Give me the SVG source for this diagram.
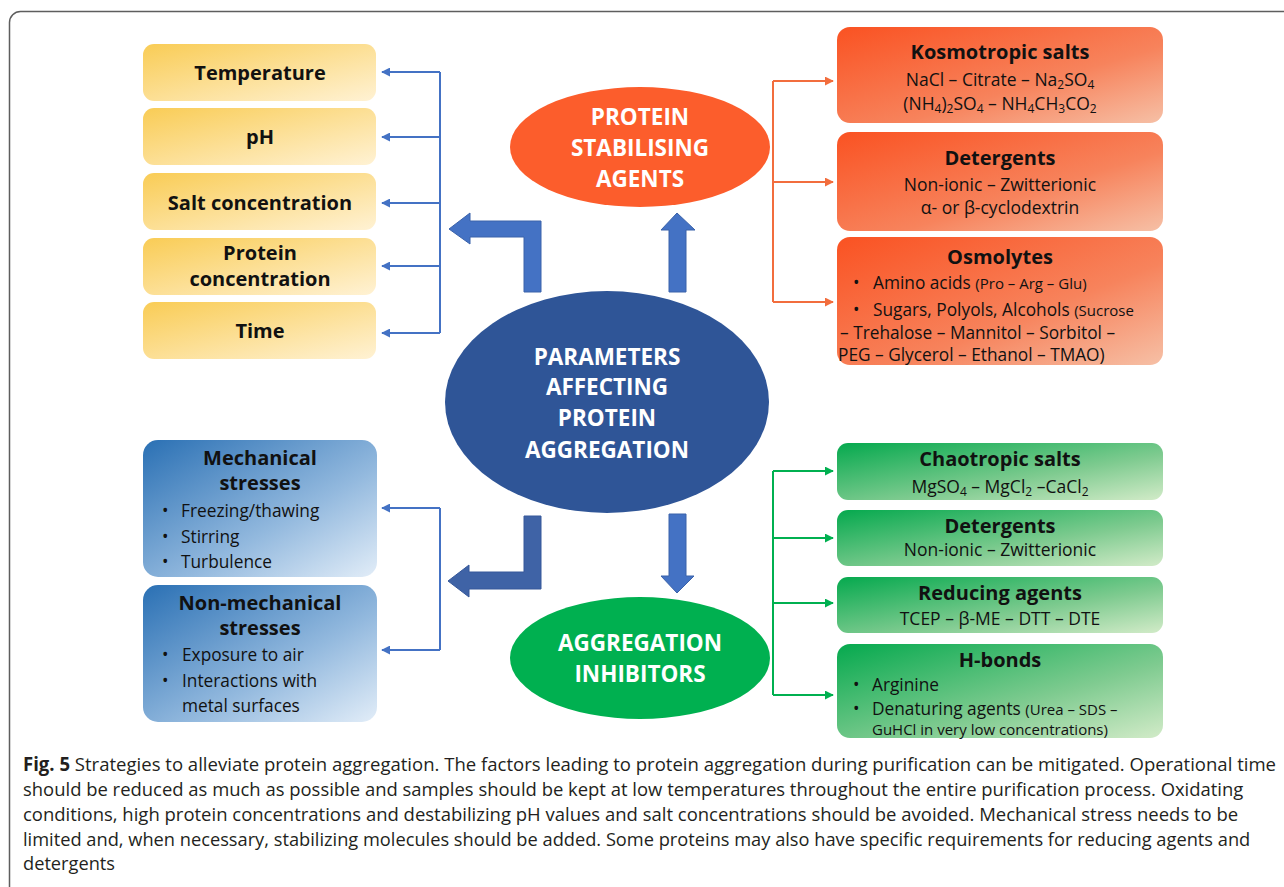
<svg xmlns="http://www.w3.org/2000/svg" width="1284" height="887" viewBox="0 0 1284 887">
<defs>
<linearGradient id="gY" x1="0" y1="0" x2="1" y2="1"><stop offset="0" stop-color="#F9CC55"/><stop offset="1" stop-color="#FFF2D4"/></linearGradient>
<linearGradient id="gO" x1="0" y1="0" x2="1" y2="1"><stop offset="0" stop-color="#FA5222"/><stop offset="0.6" stop-color="#F7835C"/><stop offset="1" stop-color="#F6C0A6"/></linearGradient>
<linearGradient id="gG" x1="0" y1="0" x2="1" y2="1"><stop offset="0" stop-color="#05A94E"/><stop offset="0.6" stop-color="#7FCB90"/><stop offset="1" stop-color="#D2EBC8"/></linearGradient>
<linearGradient id="gB" x1="0" y1="0" x2="1" y2="1"><stop offset="0" stop-color="#2A70B4"/><stop offset="0.6" stop-color="#93B9DE"/><stop offset="1" stop-color="#E2EDF8"/></linearGradient>
<marker id="mB" viewBox="0 0 10 10" refX="9" refY="5" markerWidth="4.5" markerHeight="4.5" orient="auto"><path d="M0,0 L10,5 L0,10 Z" fill="#4472C4"/></marker>
<marker id="mO" viewBox="0 0 10 10" refX="9" refY="5" markerWidth="4.5" markerHeight="4.5" orient="auto"><path d="M0,0 L10,5 L0,10 Z" fill="#F26D3D"/></marker>
<marker id="mG" viewBox="0 0 10 10" refX="9" refY="5" markerWidth="4.5" markerHeight="4.5" orient="auto"><path d="M0,0 L10,5 L0,10 Z" fill="#00B050"/></marker>
</defs>
<style>
text{font-family:"Open Sans","Liberation Sans",sans-serif;fill:#111}
.h{font-weight:700;font-size:20px;text-anchor:middle}
.t{font-size:17.5px;text-anchor:middle}
.b{font-size:17.3px}
.s{font-size:15px}
.u{font-size:12px}
.e{font-weight:700;font-size:22.5px;fill:#fff;text-anchor:middle}
.cap{font-size:19px;fill:#231F20}
.lb{fill:none;stroke:#4472C4;stroke-width:2}
.lo{fill:none;stroke:#F26D3D;stroke-width:2}
.lg{fill:none;stroke:#00B050;stroke-width:2}
.blk{fill:#4472C4;stroke:#3A62AA;stroke-width:1}
</style>
<rect width="1284" height="887" fill="#fff"/>
<rect x="9.5" y="11.5" width="1300" height="900" rx="11" fill="none" stroke="#5E5E5E" stroke-width="1.5"/>

<g id="connectors">
<path class="lb" d="M440,72 V333"/>
<path class="lb" d="M440,72 H382" marker-end="url(#mB)"/>
<path class="lb" d="M440,137 H382" marker-end="url(#mB)"/>
<path class="lb" d="M440,203 H382" marker-end="url(#mB)"/>
<path class="lb" d="M440,266 H382" marker-end="url(#mB)"/>
<path class="lb" d="M440,333 H382" marker-end="url(#mB)"/>
<path class="lb" d="M440,508 V650"/>
<path class="lb" d="M440,508 H382" marker-end="url(#mB)"/>
<path class="lb" d="M440,650 H382" marker-end="url(#mB)"/>
<path class="lo" d="M773,81 V302"/>
<path class="lo" d="M773,81 H833" marker-end="url(#mO)"/>
<path class="lo" d="M773,182 H833" marker-end="url(#mO)"/>
<path class="lo" d="M773,302 H833" marker-end="url(#mO)"/>
<path class="lg" d="M773,471 V695"/>
<path class="lg" d="M773,471 H833" marker-end="url(#mG)"/>
<path class="lg" d="M773,538 H833" marker-end="url(#mG)"/>
<path class="lg" d="M773,603 H833" marker-end="url(#mG)"/>
<path class="lg" d="M773,695 H833" marker-end="url(#mG)"/>
<polygon class="blk" points="449,229 470,213 470,221 541,221 541,292 524,292 524,237 470,237 470,244"/>
<polygon class="blk" points="669,292 669,230 661,230 677,213 695,230 686,230 686,292"/>
<polygon class="blk" style="fill:#3F63A6;stroke:#36589A" points="448,581 469,565 469,572 524,572 524,516 541,516 541,589 469,589 469,597"/>
<polygon class="blk" points="669,514 686,514 686,576 694,576 677,593 661,576 669,576"/>
</g>

<g id="temperature"><rect x="143" y="44" width="233" height="57" rx="11" fill="url(#gY)"/><text class="h" x="260" y="80">Temperature</text></g>
<g id="ph"><rect x="143" y="108" width="233" height="57" rx="11" fill="url(#gY)"/><text class="h" x="260" y="144">pH</text></g>
<g id="salt"><rect x="143" y="173" width="233" height="57" rx="11" fill="url(#gY)"/><text class="h" x="260" y="210">Salt concentration</text></g>
<g id="protein"><rect x="143" y="238" width="233" height="57" rx="11" fill="url(#gY)"/><text class="h" x="260" y="260">Protein</text><text class="h" x="260" y="286">concentration</text></g>
<g id="time"><rect x="143" y="302" width="233" height="57" rx="11" fill="url(#gY)"/><text class="h" x="260" y="338">Time</text></g>

<g id="mechanical"><rect x="143" y="440" width="234" height="137" rx="15" fill="url(#gB)"/>
<text class="h" x="260" y="465">Mechanical</text><text class="h" x="260" y="490">stresses</text>
<text class="b" x="162" y="517">•</text><text class="b" x="181" y="517">Freezing/thawing</text>
<text class="b" x="162" y="543">•</text><text class="b" x="181" y="543">Stirring</text>
<text class="b" x="162" y="568">•</text><text class="b" x="181" y="568">Turbulence</text></g>
<g id="nonmechanical"><rect x="143" y="585" width="234" height="137" rx="15" fill="url(#gB)"/>
<text class="h" x="260" y="610">Non-mechanical</text><text class="h" x="260" y="635">stresses</text>
<text class="b" x="162" y="661">•</text><text class="b" x="182" y="661">Exposure to air</text>
<text class="b" x="162" y="687">•</text><text class="b" x="182" y="687">Interactions with</text>
<text class="b" x="182" y="712">metal surfaces</text></g>

<g id="stabilising"><ellipse cx="640" cy="147" rx="130" ry="60" fill="#FC5D2C"/>
<text class="e" x="640" y="125">PROTEIN</text><text class="e" x="640" y="156">STABILISING</text><text class="e" x="640" y="187">AGENTS</text></g>
<g id="parameters"><ellipse cx="607" cy="402" rx="162" ry="111" fill="#2F5597"/>
<text class="e" x="607" y="365">PARAMETERS</text><text class="e" x="607" y="395">AFFECTING</text><text class="e" x="607" y="426">PROTEIN</text><text class="e" x="607" y="458">AGGREGATION</text></g>
<g id="inhibitors"><ellipse cx="640" cy="658" rx="130" ry="61" fill="#00B050"/>
<text class="e" x="640" y="651">AGGREGATION</text><text class="e" x="640" y="682">INHIBITORS</text></g>

<g id="kosmotropic"><rect x="837" y="27" width="326" height="96" rx="13" fill="url(#gO)"/>
<text class="h" x="1000" y="59">Kosmotropic salts</text>
<text class="t" x="1000" y="86">NaCl – Citrate – Na<tspan class="u" baseline-shift="-3">2</tspan>SO<tspan class="u" baseline-shift="-3">4</tspan></text>
<text class="t" x="1000" y="110">(NH<tspan class="u" baseline-shift="-3">4</tspan>)<tspan class="u" baseline-shift="-3">2</tspan>SO<tspan class="u" baseline-shift="-3">4</tspan> – NH<tspan class="u" baseline-shift="-3">4</tspan>CH<tspan class="u" baseline-shift="-3">3</tspan>CO<tspan class="u" baseline-shift="-3">2</tspan></text></g>
<g id="detergents1"><rect x="837" y="132" width="326" height="99" rx="13" fill="url(#gO)"/>
<text class="h" x="1000" y="165">Detergents</text>
<text class="t" x="1000" y="191">Non-ionic – Zwitterionic</text>
<text class="t" x="1000" y="214">α- or β-cyclodextrin</text></g>
<g id="osmolytes"><rect x="837" y="237" width="326" height="128" rx="13" fill="url(#gO)"/>
<text class="h" x="1000" y="264">Osmolytes</text>
<text class="b" x="853" y="289">•</text><text class="b" x="873" y="289">Amino acids <tspan class="s">(Pro – Arg – Glu)</tspan></text>
<text class="b" x="853" y="316">•</text><text class="b" x="873" y="316">Sugars, Polyols, Alcohols <tspan class="s">(Sucrose</tspan></text>
<text class="b" x="840" y="339">– Trehalose – Mannitol – Sorbitol –</text>
<text class="b" x="838" y="361">PEG – Glycerol – Ethanol – TMAO)</text></g>

<g id="chaotropic"><rect x="837" y="443" width="326" height="57" rx="11" fill="url(#gG)"/>
<text class="h" x="1000" y="466">Chaotropic salts</text>
<text class="t" x="1000" y="493">MgSO<tspan class="u" baseline-shift="-3">4</tspan> – MgCl<tspan class="u" baseline-shift="-3">2</tspan> –CaCl<tspan class="u" baseline-shift="-3">2</tspan></text></g>
<g id="detergents2"><rect x="837" y="510" width="326" height="56" rx="11" fill="url(#gG)"/>
<text class="h" x="1000" y="533">Detergents</text>
<text class="t" x="1000" y="556">Non-ionic – Zwitterionic</text></g>
<g id="reducing"><rect x="837" y="577" width="326" height="56" rx="11" fill="url(#gG)"/>
<text class="h" x="1000" y="600">Reducing agents</text>
<text class="t" x="1000" y="625">TCEP – β-ME – DTT – DTE</text></g>
<g id="hbonds"><rect x="837" y="644" width="326" height="94" rx="13" fill="url(#gG)"/>
<text class="h" x="1000" y="667">H-bonds</text>
<text class="b" x="853" y="691">•</text><text class="b" x="872" y="691">Arginine</text>
<text class="b" x="853" y="715">•</text><text class="b" x="872" y="715">Denaturing agents <tspan class="s">(Urea – SDS –</tspan></text>
<text class="s" x="872" y="735">GuHCl in very low concentrations)</text></g>

<g id="caption" transform="translate(23,0) scale(0.86,1)">
<text class="cap" x="0" y="771" textLength="1457" lengthAdjust="spacingAndGlyphs"><tspan font-weight="700">Fig. 5</tspan>  Strategies to alleviate protein aggregation. The factors leading to protein aggregation during purification can be mitigated. Operational time</text>
<text class="cap" x="0" y="796" textLength="1419" lengthAdjust="spacingAndGlyphs">should be reduced as much as possible and samples should be kept at low temperatures throughout the entire purification process. Oxidating</text>
<text class="cap" x="0" y="821" textLength="1413" lengthAdjust="spacingAndGlyphs">conditions, high protein concentrations and destabilizing pH values and salt concentrations should be avoided. Mechanical stress needs to be</text>
<text class="cap" x="0" y="846" textLength="1427" lengthAdjust="spacingAndGlyphs">limited and, when necessary, stabilizing molecules should be added. Some proteins may also have specific requirements for reducing agents and</text>
<text class="cap" x="0" y="870" textLength="107" lengthAdjust="spacingAndGlyphs">detergents</text>
</g>
</svg>
